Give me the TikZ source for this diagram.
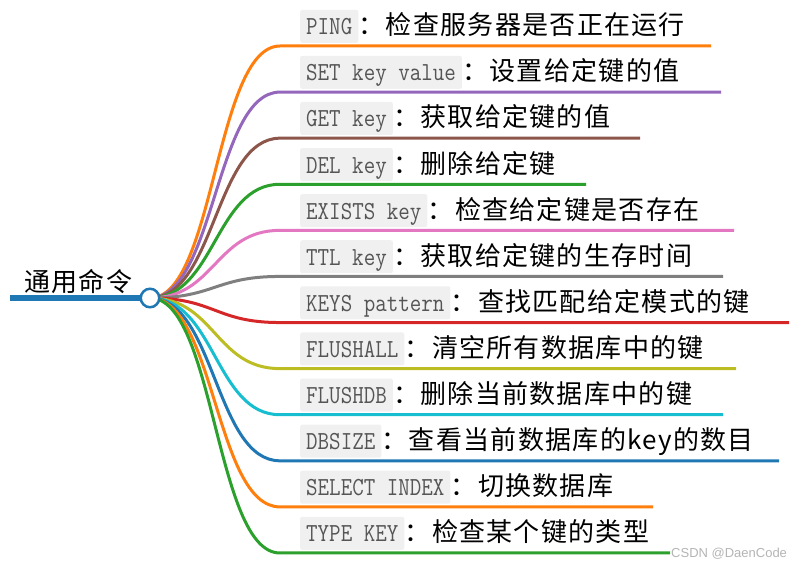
\documentclass[tikz,border=0pt]{standalone}
\usepackage{fontspec}
\usepackage{graphicx}
\newfontfamily\cjk[LetterSpace=5]{Noto Sans CJK SC}
\newfontfamily\wmfont{Liberation Sans}
\definecolor{corange}{HTML}{FF7F0E}
\definecolor{cpurple}{HTML}{9467BD}
\definecolor{cbrown}{HTML}{8C564B}
\definecolor{cgreen}{HTML}{2CA02C}
\definecolor{cpink}{HTML}{E377C2}
\definecolor{cgray}{HTML}{7F7F7F}
\definecolor{cred}{HTML}{D62728}
\definecolor{colive}{HTML}{BCBD22}
\definecolor{ccyan}{HTML}{17BECF}
\definecolor{cblue}{HTML}{1F77B4}
\definecolor{boxgray}{HTML}{F0F0F0}
\definecolor{codegray}{HTML}{555555}
\definecolor{wmgray}{HTML}{B4B4B4}
\newcommand{\codetxt}[1]{\scalebox{0.86}[1]{#1}}
\tikzset{
  link/.style={line width=3pt},
  rootline/.style={line width=6.5pt, draw=cblue},
  hubnode/.style={circle, draw=cblue, line width=2.5pt, fill=white, minimum size=18.5pt, inner sep=0pt},
  codebox/.style={fill=boxgray, rounded corners=2pt, anchor=south west, inner xsep=6pt, inner ysep=8pt,
    text height=17pt, text depth=0pt, text=codegray, font=\fontsize{26}{30}\selectfont\ttfamily},
  desc/.style={anchor=base west, inner sep=0pt, text=black, font=\cjk\fontsize{26}{30}\selectfont},
  rootlabel/.style={anchor=base west, inner sep=0pt, text=black, font=\cjk\fontsize{26}{30}\selectfont},
  wm/.style={anchor=west, inner sep=0pt, text=wmgray, font=\wmfont\fontsize{13}{15}\selectfont},
}
\newcommand\branch[5]{%
  \pgfmathsetmacro\yy{46+46.09*#1}%
  \coordinate (s#1) at (280,\yy);
  \coordinate (e#1) at (#3,\yy);
  \draw[link,draw=#2] (hubc) .. controls +(65,0) and +(-65,0) .. (s#1) -- (e#1);
  \node[codebox] (k#1) at (300,\yy-3) {\codetxt{#4}};
  \node[desc] (d#1) at (k#1.base east) {：#5};
}
\begin{document}
\begin{tikzpicture}[x=1pt,y=-1pt]
\useasboundingbox (0,0) rectangle (803,569);
\coordinate (hubc) at (150,298);
\coordinate (rs) at (10,298);
\draw[rootline] (rs) -- (hubc);
\node[rootlabel] (root) at (24,291) {通用命令};
\branch{0}{corange}{711}{PING}{检查服务器是否正在运行}
\branch{1}{cpurple}{721}{SET key value}{设置给定键的值}
\branch{2}{cbrown}{640}{GET key}{获取给定键的值}
\branch{3}{cgreen}{586}{DEL key}{删除给定键}
\branch{4}{cpink}{734}{EXISTS key}{检查给定键是否存在}
\branch{5}{cgray}{723}{TTL key}{获取给定键的生存时间}
\branch{6}{cred}{789}{KEYS pattern}{查找匹配给定模式的键}
\branch{7}{colive}{736}{FLUSHALL}{清空所有数据库中的键}
\branch{8}{ccyan}{723}{FLUSHDB}{删除当前数据库中的键}
\branch{9}{cblue}{779}{DBSIZE}{查看当前数据库的key的数目}
\branch{10}{corange}{653}{SELECT INDEX}{切换数据库}
\branch{11}{cgreen}{670}{TYPE KEY}{检查某个键的类型}
\node[hubnode] (hub) at (hubc) {};
\node[wm] (wmark) at (671,554) {CSDN @DaenCode};
\end{tikzpicture}
\end{document}
